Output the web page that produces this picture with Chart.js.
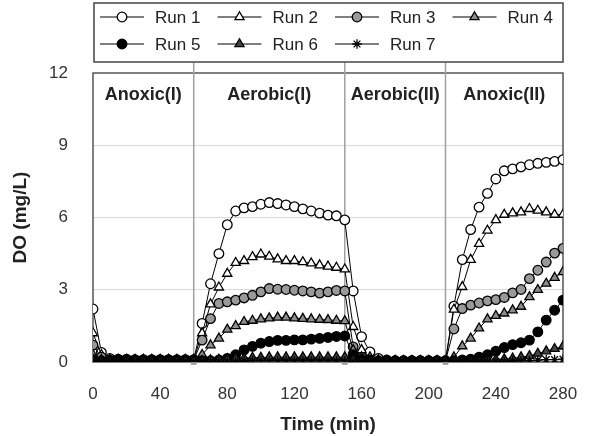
<!DOCTYPE html>
<html lang="en">
<head>
    <meta charset="UTF-8">
    <title>DO profiles</title>
    <script src="https://cdn.jsdelivr.net/npm/chart.js"></script>
    <style>
        body {
            margin: 0;
            padding: 0;
            background: #fff;
        }

        .chart-box {
            width: 590px;
            height: 436px;
        }
    </style>
</head>
<body>
    <div class="chart-box">
        <canvas id="doChart"></canvas>
    </div>

    <script>
// Sampling times (min)
const times = [0, 5, 10, 15, 20, 25, 30, 35, 40, 45, 50, 55, 60, 65, 70, 75, 80, 85, 90, 95, 100,
    105, 110, 115, 120, 125, 130, 135, 140, 145, 150, 155, 160, 165, 170, 175, 180, 185, 190, 195,
    200, 205, 210, 215, 220, 225, 230, 235, 240, 245, 250, 255, 260, 265, 270, 275, 280];

// DO (mg/L) per run
const run1 = [2.2, 0.4, 0.15, 0.12, 0.12, 0.1, 0.1, 0.1, 0.1, 0.1, 0.1, 0.1, 0.1,
    1.6, 3.25, 4.5, 5.7, 6.27, 6.4, 6.45, 6.55, 6.62, 6.58, 6.52, 6.45, 6.36, 6.27, 6.18, 6.1, 6.07, 5.9,
    2.95, 1.05, 0.42, 0.15, 0.08, 0.05, 0.05, 0.05, 0.05, 0.05, 0.05, 0.05,
    2.32, 4.25, 5.5, 6.43, 7.0, 7.6, 7.94, 8.02, 8.1, 8.19, 8.25, 8.29, 8.33, 8.4];
const run2 = [1.2, 0.3, 0.1, 0.1, 0.1, 0.1, 0.1, 0.1, 0.1, 0.1, 0.1, 0.1, 0.1,
    1.2, 2.4, 3.1, 3.67, 4.12, 4.2, 4.36, 4.47, 4.38, 4.27, 4.2, 4.2, 4.15, 4.1, 4.02, 3.97, 3.92, 3.85,
    1.46, 0.5, 0.2, 0.08, 0.05, 0.05, 0.05, 0.05, 0.05, 0.05, 0.05, 0.05,
    2.18, 3.12, 4.25, 4.91, 5.46, 5.9, 6.12, 6.18, 6.22, 6.36, 6.29, 6.22, 6.12, 6.12];
const run3 = [0.7, 0.2, 0.08, 0.08, 0.08, 0.08, 0.08, 0.08, 0.08, 0.08, 0.08, 0.08, 0.08,
    0.91, 1.8, 2.43, 2.5, 2.57, 2.66, 2.77, 2.91, 3.05, 3.02, 3.01, 2.98, 2.95, 2.91, 2.86, 2.91, 2.97, 2.95,
    0.63, 0.2, 0.08, 0.05, 0.05, 0.05, 0.05, 0.05, 0.05, 0.05, 0.05, 0.05,
    1.37, 2.22, 2.36, 2.45, 2.54, 2.59, 2.68, 2.87, 3.01, 3.46, 3.81, 4.15, 4.52, 4.72];
const run4 = [0.3, 0.1, 0.06, 0.06, 0.06, 0.06, 0.06, 0.06, 0.06, 0.06, 0.06, 0.06, 0.06,
    0.3, 0.7, 0.98, 1.35, 1.5, 1.67, 1.72, 1.78, 1.82, 1.85, 1.85, 1.82, 1.8, 1.78, 1.76, 1.75, 1.72, 1.7,
    0.5, 0.2, 0.06, 0.04, 0.04, 0.04, 0.04, 0.04, 0.04, 0.04, 0.04, 0.04,
    0.2, 0.66, 0.98, 1.4, 1.78, 1.92, 2.02, 2.15, 2.3, 2.7, 3.0, 3.26, 3.5, 3.74];
const run5 = [0.1, 0.05, 0.05, 0.05, 0.05, 0.05, 0.05, 0.05, 0.05, 0.05, 0.05, 0.05, 0.05,
    0.05, 0.05, 0.08, 0.15, 0.3, 0.5, 0.65, 0.78, 0.85, 0.9, 0.9, 0.92, 0.92, 0.95, 0.98, 1.02, 1.06, 1.08,
    0.3, 0.1, 0.05, 0.03, 0.03, 0.03, 0.03, 0.03, 0.03, 0.03, 0.03, 0.03,
    0.05, 0.08, 0.12, 0.2, 0.3, 0.45, 0.6, 0.72, 0.8, 0.91, 1.25, 1.74, 2.15, 2.57];
const run6 = [0.1, 0.05, 0.05, 0.05, 0.05, 0.05, 0.05, 0.05, 0.05, 0.05, 0.05, 0.05, 0.05,
    0.05, 0.08, 0.1, 0.12, 0.15, 0.15, 0.18, 0.18, 0.2, 0.2, 0.2, 0.2, 0.2, 0.2, 0.2, 0.2, 0.2, 0.2,
    0.1, 0.05, 0.03, 0.03, 0.03, 0.03, 0.03, 0.03, 0.03, 0.03, 0.03, 0.03,
    0.03, 0.03, 0.05, 0.05, 0.08, 0.1, 0.12, 0.15, 0.2, 0.25, 0.35, 0.45, 0.55, 0.65];
const run7 = [0.05, 0.03, 0.03, 0.03, 0.03, 0.03, 0.03, 0.03, 0.03, 0.03, 0.03, 0.03, 0.03,
    0.03, 0.03, 0.03, 0.03, 0.03, 0.05, 0.05, 0.05, 0.05, 0.05, 0.05, 0.05, 0.05, 0.05, 0.05, 0.05, 0.05, 0.05,
    0.03, 0.03, 0.03, 0.03, 0.03, 0.03, 0.03, 0.03, 0.03, 0.03, 0.03, 0.03,
    0.03, 0.03, 0.03, 0.03, 0.03, 0.03, 0.03, 0.05, 0.05, 0.05, 0.08, 0.1, 0.1, 0.12];

// Phase boundaries (min) and names
const phaseEdges = [0, 60, 150, 210, 280];
const phaseNames = ['Anoxic(I)', 'Aerobic(I)', 'Aerobic(II)', 'Anoxic(II)'];

const xTicks = [0, 40, 80, 120, 160, 200, 240, 280];
const yTicks = [0, 3, 6, 9, 12];

const FONT = "'Liberation Sans', Arial, sans-serif";
Chart.defaults.font.family = FONT;

function pts(vals) {
    return vals.map((v, i) => ({ x: times[i], y: v }));
}

function run(label, vals, style, fill, order) {
    return {
        label: label,
        data: pts(vals),
        borderColor: '#000',
        borderWidth: 1,
        pointStyle: style,
        pointRadius: style === 'triangle' ? 5.3 : 4.8,
        pointBackgroundColor: fill,
        pointBorderColor: '#000',
        pointBorderWidth: 1.3,
        tension: 0,
        order: order,
        isRun: true
    };
}

const datasets = [
    run('Run 1', run1, 'circle', '#fff', 6),
    run('Run 2', run2, 'triangle', '#fff', 5),
    run('Run 3', run3, 'circle', '#999', 4),
    run('Run 4', run4, 'triangle', '#8c8c8c', 3),
    run('Run 5', run5, 'circle', '#000', 2),
    run('Run 6', run6, 'triangle', '#444', 1),
    run('Run 7', run7, 'star', '#000', 0)
];

// phase separators, drawn up to the legend box
phaseEdges.slice(1, -1).forEach(t => {
    datasets.push({
        label: '',
        data: [{ x: t, y: 0 }, { x: t, y: 12.45 }],
        borderColor: '#a0a0a0',
        borderWidth: 1.5,
        pointStyle: 'rect',
        pointRadius: [3, 0],
        pointBackgroundColor: '#999',
        pointBorderColor: '#999',
        clip: false,
        order: 10
    });
});

// frame round the plot area
const frame = {
    id: 'frame',
    beforeDatasetsDraw(chart) {
        const { ctx, chartArea: a } = chart;
        ctx.save();
        ctx.strokeStyle = '#555';
        ctx.lineWidth = 1.5;
        ctx.strokeRect(a.left, a.top, a.right - a.left, a.bottom - a.top);
        ctx.restore();
    }
};

// phase names centred in each phase
const phaseText = {
    id: 'phaseText',
    afterDatasetsDraw(chart) {
        const { ctx, scales: { x, y } } = chart;
        ctx.save();
        ctx.font = 'bold 18px ' + FONT;
        ctx.fillStyle = '#222';
        ctx.textAlign = 'center';
        ctx.textBaseline = 'middle';
        phaseNames.forEach((name, i) => {
            const mid = (phaseEdges[i] + phaseEdges[i + 1]) / 2;
            ctx.fillText(name, x.getPixelForValue(mid), y.getPixelForValue(11.1));
        });
        ctx.restore();
    }
};

// boxed legend: 4 items on the first row, 3 on the second
const legendBox = {
    id: 'legendBox',
    afterDraw(chart) {
        const { ctx, chartArea: a } = chart;
        const items = chart.data.datasets.filter(d => d.isRun);
        ctx.save();
        ctx.strokeStyle = '#444';
        ctx.lineWidth = 1.5;
        ctx.strokeRect(a.left + 1, 3, a.right - a.left - 1, 59);
        items.forEach((ds, i) => {
            const x = a.left + 7 + (i % 4) * 117.5;
            const y = 17 + Math.floor(i / 4) * 27;
            ctx.strokeStyle = '#000';
            ctx.lineWidth = 1;
            ctx.beginPath();
            ctx.moveTo(x, y);
            ctx.lineTo(x + 44, y);
            ctx.stroke();
            ctx.fillStyle = ds.pointBackgroundColor;
            ctx.strokeStyle = ds.pointBorderColor;
            ctx.lineWidth = ds.pointBorderWidth;
            Chart.helpers.drawPoint(ctx, {
                pointStyle: ds.pointStyle,
                radius: ds.pointRadius,
                borderWidth: ds.pointBorderWidth,
                rotation: 0
            }, x + 22, y);
            ctx.fillStyle = '#222';
            ctx.font = '17px ' + FONT;
            ctx.textAlign = 'left';
            ctx.textBaseline = 'middle';
            ctx.fillText(ds.label, x + 55, y + 1);
        });
        ctx.restore();
    }
};

new Chart(document.getElementById('doChart'), {
    type: 'line',
    data: { datasets: datasets },
    options: {
        responsive: true,
        maintainAspectRatio: false,
        animation: false,
        layout: { padding: { top: 73, right: 27, bottom: 0, left: 0 } },
        plugins: {
            legend: { display: false },
            tooltip: { enabled: false }
        },
        scales: {
            x: {
                type: 'linear',
                min: 0,
                max: 280,
                afterBuildTicks: s => { s.ticks = xTicks.map(v => ({ value: v })); },
                afterFit: s => {
                    s.height = 74;
                    s.paddingLeft = 0;
                    s.paddingRight = 0;
                },
                grid: { display: false, drawTicks: false },
                border: { display: false },
                ticks: { color: '#333', font: { size: 17 }, padding: 22, maxRotation: 0 },
                title: {
                    display: true,
                    text: 'Time (min)',
                    color: '#222',
                    font: { size: 19, weight: 'bold' },
                    padding: { top: 0, bottom: 0 }
                }
            },
            y: {
                min: 0,
                max: 12,
                afterBuildTicks: s => { s.ticks = yTicks.map(v => ({ value: v })); },
                afterFit: s => { s.width = 93; },
                grid: {
                    drawTicks: false,
                    color: c => (c.tick.value === 0 || c.tick.value === 12) ? 'rgba(0,0,0,0)' : '#d9d9d9',
                    lineWidth: 1
                },
                border: { display: false },
                ticks: { color: '#333', font: { size: 17 }, padding: 25 },
                title: {
                    display: true,
                    text: 'DO (mg/L)',
                    color: '#222',
                    font: { size: 19, weight: 'bold' },
                    padding: { top: 9, bottom: 0 }
                }
            }
        }
    },
    plugins: [frame, phaseText, legendBox]
});
    </script>
</body>
</html>
